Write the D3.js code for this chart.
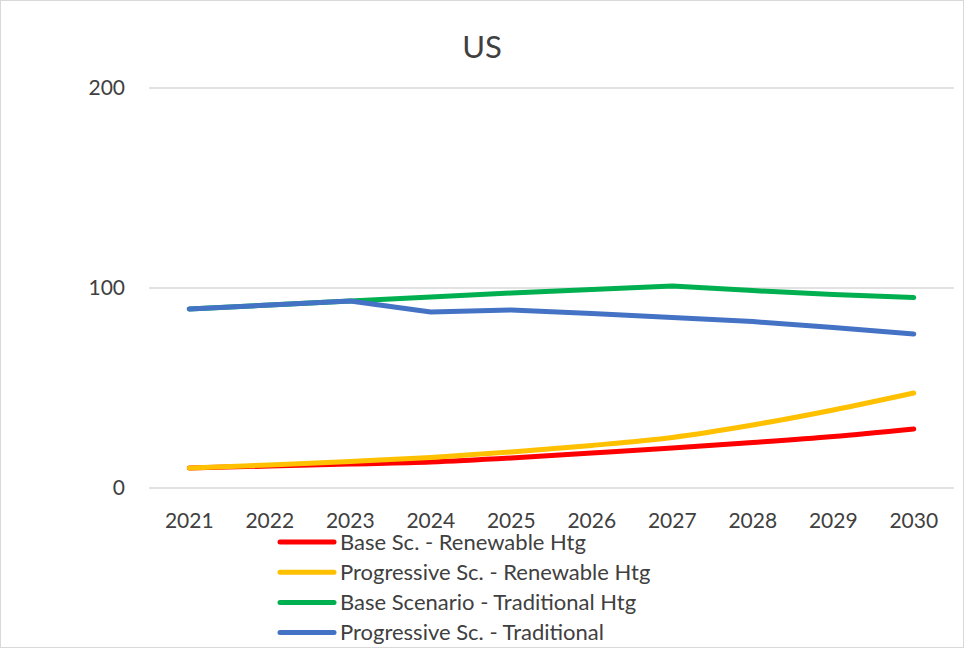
<!DOCTYPE html>
<html>
<head>
<meta charset="utf-8">
<script src="https://cdn.jsdelivr.net/npm/d3@7"></script>
<style>
  body { margin: 0; background: #fff; }
  text { font-family: Lato, "Open Sans", sans-serif; fill: #404040; }
</style>
</head>
<body>
<div id="chart"></div>
<script>
// chart data
const years = ["2021", "2022", "2023", "2024", "2025", "2026", "2027", "2028", "2029", "2030"];
const baseRenewable = [10, 11, 12, 13, 15, 17.5, 20, 22.7, 25.7, 29.5];
const progRenewable = [10, 11.5, 13.3, 15.3, 18, 21.3, 25.3, 31.5, 39, 47.5];
const baseTraditional = [89.5, 91.5, 93.5, 95.5, 97.5, 99.3, 101, 98.7, 96.8, 95.2];
const progTraditional = [89.5, 91.5, 93.5, 88, 89, 87.2, 85.2, 83.2, 80.3, 77];
const yTicks = [0, 100, 200];

const series = [
    { name: "Base Sc. - Renewable Htg", values: baseRenewable, color: "#FF0000", smooth: true },
    { name: "Progressive Sc. - Renewable Htg", values: progRenewable, color: "#FFC000", smooth: true },
    { name: "Base Scenario - Traditional Htg", values: baseTraditional, color: "#00B050", smooth: false },
    { name: "Progressive Sc. - Traditional", values: progTraditional, color: "#4472C4", smooth: false }
];

const width = 964, height = 648;
const svg = d3.select("#chart").append("svg")
    .attr("width", width)
    .attr("height", height);

// outer frame
svg.append("rect")
    .attr("x", 0.5).attr("y", 0.5)
    .attr("width", width - 1).attr("height", height - 1)
    .attr("fill", "#fff")
    .attr("stroke", "#d9d9d9");

const plot = { left: 149, right: 954, top: 88, bottom: 488 };

const x = d3.scalePoint()
    .domain(years)
    .range([plot.left, plot.right])
    .padding(0.5);

const y = d3.scaleLinear()
    .domain([0, 200])
    .range([plot.bottom, plot.top]);

// title
svg.append("text")
    .attr("x", 482).attr("y", 58)
    .attr("text-anchor", "middle")
    .style("font-size", "31px")
    .text("US");

// gridlines
svg.append("g")
    .selectAll("line")
    .data(yTicks)
    .enter().append("line")
    .attr("x1", plot.left).attr("x2", plot.right)
    .attr("y1", d => y(d)).attr("y2", d => y(d))
    .style("stroke", "#d9d9d9")
    .style("stroke-width", 1.3);

// y axis labels
svg.append("g")
    .selectAll("text")
    .data(yTicks)
    .enter().append("text")
    .attr("x", 125)
    .attr("y", d => y(d))
    .attr("dy", "0.35em")
    .attr("text-anchor", "end")
    .style("font-size", "21px")
    .text(d => d);

// x axis labels
svg.append("g")
    .selectAll("text")
    .data(years)
    .enter().append("text")
    .attr("x", d => x(d))
    .attr("y", 528)
    .attr("text-anchor", "middle")
    .style("font-size", "21px")
    .text(d => d);

// lines
const lineSmooth = d3.line()
    .x((d, i) => x(years[i]))
    .y(d => y(d))
    .curve(d3.curveCatmullRom.alpha(0.5));
const lineStraight = d3.line()
    .x((d, i) => x(years[i]))
    .y(d => y(d));

svg.append("g")
    .selectAll("path")
    .data(series)
    .enter().append("path")
    .attr("d", d => (d.smooth ? lineSmooth : lineStraight)(d.values))
    .style("fill", "none")
    .style("stroke", d => d.color)
    .style("stroke-width", 5)
    .style("stroke-linecap", "round")
    .style("stroke-linejoin", "round");

// legend
const legend = svg.append("g")
    .selectAll("g")
    .data(series)
    .enter().append("g")
    .attr("transform", (d, i) => `translate(278, ${542 + i * 30.2})`);

legend.append("line")
    .attr("x1", 2).attr("x2", 56)
    .style("stroke", d => d.color)
    .style("stroke-width", 5)
    .style("stroke-linecap", "round");

legend.append("text")
    .attr("x", 62)
    .attr("dy", "0.35em")
    .style("font-size", "22px")
    .text(d => d.name);
</script>
</body>
</html>
